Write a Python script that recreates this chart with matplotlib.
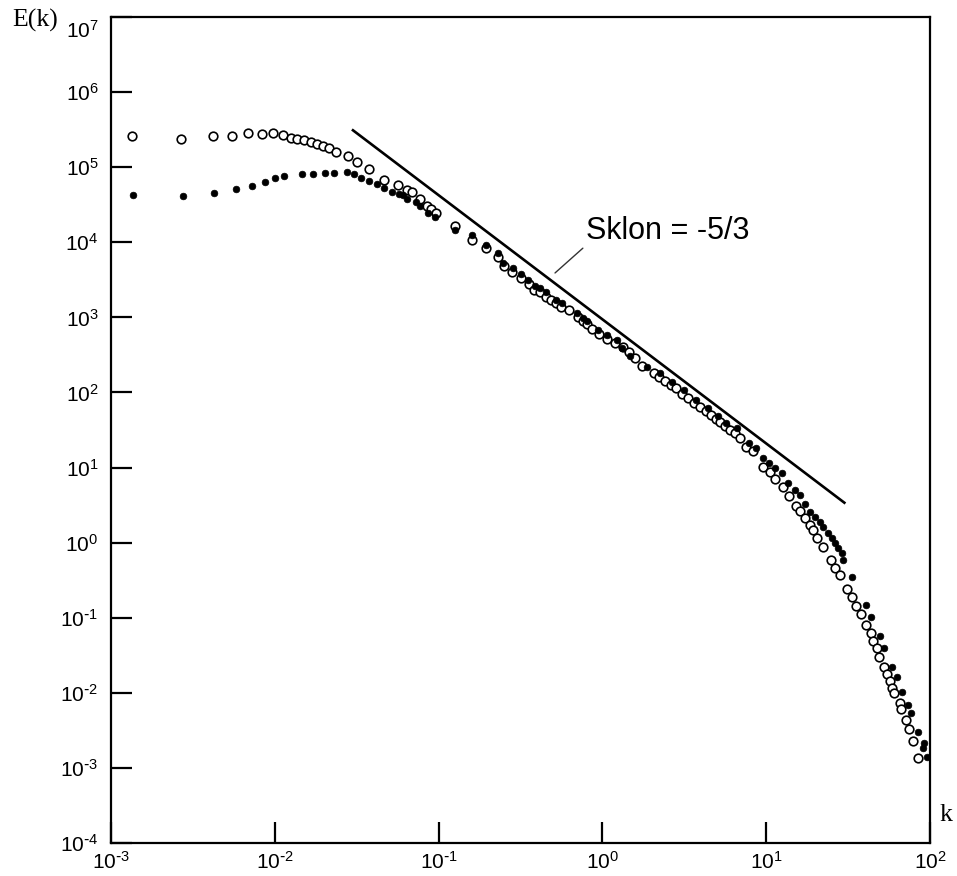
import matplotlib
matplotlib.use("Agg")
import matplotlib.pyplot as plt
import numpy as np

plt.rcParams['font.family'] = ['Liberation Sans', 'DejaVu Sans']
plt.rcParams['mathtext.default'] = 'regular'

# otvoreni kruzici (prva serija)
k_open = [1.34e-3, 2.66e-3, 4.2e-3, 5.48e-3, 6.89e-3, 8.32e-3, 9.71e-3, 1.117e-2, 1.25e-2, 1.372e-2,
          1.508e-2, 1.663e-2, 1.818e-2, 1.977e-2, 2.15e-2, 2.38e-2, 2.80e-2, 3.18e-2, 3.74e-2, 4.66e-2,
          5.65e-2, 6.44e-2, 6.85e-2, 7.66e-2, 8.46e-2, 8.99e-2, 9.60e-2, 0.1265, 0.1606, 0.1948,
          0.2314, 0.2508, 0.2818, 0.3185, 0.3563, 0.3841, 0.416, 0.4507, 0.4857, 0.521,
          0.559, 0.6254, 0.7126, 0.7644, 0.809, 0.8603, 0.957, 1.062, 1.194, 1.33,
          1.46, 1.58, 1.738, 2.074, 2.226, 2.412, 2.612, 2.814, 3.05, 3.345,
          3.624, 3.943, 4.292, 4.583, 4.937, 5.223, 5.604, 6.01, 6.45, 6.92,
          7.53, 8.34, 9.60, 10.55, 11.31, 12.61, 13.84, 15.2, 16.08, 17.26,
          18.51, 19.39, 20.51, 22.32, 24.76, 26.3, 28.41, 31.14, 33.5, 35.3,
          38.07, 40.5, 43.6, 45.07, 47.5, 49.03, 52.6, 54.4, 57.0, 58.9,
          60.4, 65.6, 66.5, 71.4, 74.7, 79.1, 84.5]
E_open = [2.62e5, 2.37e5, 2.58e5, 2.58e5, 2.83e5, 2.79e5, 2.83e5, 2.66e5, 2.47e5, 2.37e5,
          2.28e5, 2.15e5, 2.06e5, 1.93e5, 1.79e5, 1.58e5, 1.41e5, 1.17e5, 9.46e4, 6.82e4,
          5.79e4, 5.01e4, 4.63e4, 3.74e4, 3.04e4, 2.75e4, 2.45e4, 1.67e4, 1.08e4, 8.32e3,
          6.31e3, 4.83e3, 3.99e3, 3.32e3, 2.76e3, 2.32e3, 2.16e3, 1.89e3, 1.70e3, 1.57e3,
          1.36e3, 1.25e3, 1.00e3, 895, 817, 694, 601, 515, 452, 407,
          349, 288, 225, 180, 162, 142, 125, 114, 95.5, 83.7,
          73.1, 63.5, 56.2, 50.6, 44.0, 40.8, 35.8, 31.7, 28.6, 24.5,
          19.0, 16.6, 10.3, 8.65, 6.98, 5.57, 4.18, 3.08, 2.67, 2.11,
          1.72, 1.475, 1.144, 0.868, 0.588, 0.456, 0.366, 0.240, 0.187, 0.1435,
          0.1112, 0.0801, 0.0633, 0.0491, 0.0396, 0.0298, 0.0219, 0.01774, 0.01439, 0.01172,
          0.00987, 0.00726, 0.00605, 0.00431, 0.00327, 0.00231, 0.001346]

# puni kruzici (druga serija)
k_full = [1.357e-3, 2.76e-3, 4.25e-3, 5.77e-3, 7.23e-3, 8.68e-3, 1.007e-2, 1.133e-2, 1.46e-2, 1.718e-2,
          2.033e-2, 2.307e-2, 2.75e-2, 3.045e-2, 3.37e-2, 3.775e-2, 4.225e-2, 4.66e-2, 5.19e-2, 5.73e-2,
          6.04e-2, 6.38e-2, 7.25e-2, 7.70e-2, 8.58e-2, 9.55e-2, 0.1265, 0.1606, 0.1948, 0.2314,
          0.2483, 0.2834, 0.3185, 0.3528, 0.3878, 0.416, 0.4526, 0.521, 0.5645, 0.7027,
          0.7644, 0.809, 0.944, 1.062, 1.223, 1.311, 1.474, 1.864, 2.247, 2.66,
          3.15, 3.73, 4.41, 5.08, 5.68, 6.60, 7.88, 8.66, 9.52, 10.44,
          11.31, 12.43, 13.64, 14.99, 16.08, 17.26, 18.51, 19.86, 21.3, 22.32,
          23.94, 25.1, 26.3, 27.55, 29.03, 29.56, 33.3, 40.7, 43.6, 49.5,
          52.6, 58.9, 62.6, 67.7, 72.9, 76.6, 84.8, 91.9, 90.2, 96.3]
E_full = [4.26e4, 4.10e4, 4.53e4, 5.17e4, 5.67e4, 6.41e4, 7.25e4, 7.70e4, 8.19e4, 8.12e4,
          8.45e4, 8.24e4, 8.71e4, 8.04e4, 7.11e4, 6.55e4, 5.97e4, 5.33e4, 4.72e4, 4.36e4,
          4.26e4, 3.77e4, 3.41e4, 3.04e4, 2.45e4, 2.15e4, 1.47e4, 1.25e4, 9.2e3, 7.14e3,
          5.35e3, 4.50e3, 3.78e3, 3.15e3, 2.62e3, 2.44e3, 2.20e3, 1.70e3, 1.54e3, 1.13e3,
          981, 895, 679, 583, 500, 388, 306, 216, 182, 138,
          108, 79.4, 62.1, 48.6, 38.9, 33.4, 21.4, 18.2, 13.3, 11.4,
          9.97, 8.39, 6.18, 5.03, 4.31, 3.27, 2.59, 2.22, 1.90, 1.63,
          1.333, 1.144, 0.981, 0.842, 0.718, 0.588, 0.346, 0.1494, 0.1015, 0.0572,
          0.0392, 0.0219, 0.01642, 0.01037, 0.0069, 0.00535, 0.00297, 0.00217, 0.00183, 0.001413]

# pravac nagiba -5/3
k_line = [0.03, 30.0]
E_line = [3.1e5, 3.4]

x_ticks = [1e-3, 1e-2, 1e-1, 1e0, 1e1, 1e2]
x_labels = ['-3', '-2', '-1', '0', '1', '2']
y_ticks = [1e-4, 1e-3, 1e-2, 1e-1, 1e0, 1e1, 1e2, 1e3, 1e4, 1e5, 1e6, 1e7]
y_labels = ['-4', '-3', '-2', '-1', '0', '1', '2', '3', '4', '5', '6', '7']


def eksponent(s):
    # kratka crtica umjesto matematickog minusa, kao na originalu
    s = s.replace('-', r'\text{-}')
    return r'$10^{%s}$' % s


fig = plt.figure(figsize=(9.57, 8.76), dpi=100)
ax = fig.add_axes([0.116, 0.0377, 0.8558, 0.9429])

ax.plot(k_open, E_open, 'o', ls='none', mfc='white', mec='black', ms=6.2, mew=1.2)
ax.plot(k_full, E_full, 'o', ls='none', mfc='black', mec='black', ms=4.8, mew=0.5)
ax.plot(k_line, E_line, color='black', lw=1.9)

ax.set_xscale('log')
ax.set_yscale('log')
ax.set_xlim(1e-3, 1e2)
ax.set_ylim(1e-4, 1e7)

ax.set_xticks(x_ticks)
ax.set_xticklabels([eksponent(s) for s in x_labels])
ax.set_yticks(y_ticks)
# 10^7 se crta posebno, malo ispod vrha
ax.set_yticklabels([eksponent(s) for s in y_labels[:-1]] + [''])
ax.minorticks_off()
ax.tick_params(axis='both', which='major', direction='in', length=15, width=1.6,
               labelsize=15, top=False, right=False)
ax.tick_params(axis='x', pad=6)
ax.tick_params(axis='y', pad=9)
for s in ax.spines.values():
    s.set_linewidth(1.6)

ax.annotate(eksponent(y_labels[-1]), xy=(1e-3, 1e7), xytext=(-9, -10), textcoords='offset points',
            ha='right', va='center', fontsize=15, annotation_clip=False)

ax.annotate('Sklon = -5/3', xy=(0.5136, 3.9e3), xytext=(0.79, 9.0e3),
            ha='left', va='bottom', fontsize=22,
            arrowprops=dict(arrowstyle='-', color='#333333', lw=1.0,
                            relpos=(0, 0), shrinkA=0, shrinkB=0))

fig.text(12 / 957, 1 - 20 / 876, 'E(k)', family='Liberation Serif', fontsize=18.5,
         ha='left', va='center')
fig.text(940 / 957, 1 - 815 / 876, 'k', family='Liberation Serif', fontsize=18.5,
         ha='left', va='center')

fig.savefig('out.png', dpi=100)
